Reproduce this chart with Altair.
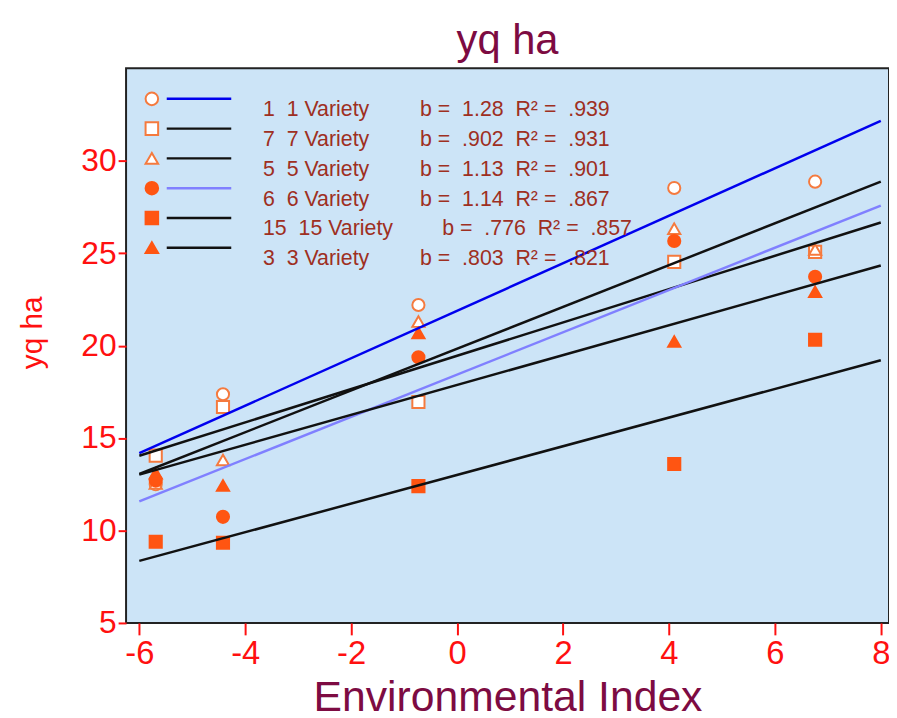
import altair as alt
import pandas as pd

# ---- data ----
env_index = [-5.69, -4.42, -0.73, 4.10, 6.76]
varieties = ["1", "7", "5", "6", "15", "3"]
y_v1 = [12.5, 17.37, 22.2, 28.53, 28.87]
y_v7 = [14.05, 16.68, 16.95, 24.53, 25.07]
y_v5 = [12.55, 13.82, 21.3, 26.33, 25.2]
y_v6 = [12.7, 10.74, 19.37, 25.66, 23.73]
y_v15 = [9.39, 9.34, 12.40, 13.60, 20.32]
y_v3 = [13.1, 12.44, 20.68, 20.23, 22.92]
series = [y_v1, y_v7, y_v5, y_v6, y_v15, y_v3]

NB = "\u00a0"
legend_labels = [f"1{NB}{NB}1 Variety", f"7{NB}{NB}7 Variety", f"5{NB}{NB}5 Variety",
                 f"6{NB}{NB}6 Variety", f"15{NB}{NB}15 Variety", f"3{NB}{NB}3 Variety"]
legend_b = ["1.28", ".902", "1.13", "1.14", ".776", ".803"]
legend_r2 = [".939", ".931", ".901", ".867", ".857", ".821"]

x_ticks = [-6, -4, -2, 0, 2, 4, 6, 8]
y_ticks = [5, 10, 15, 20, 25, 30]

# ---- tables ----
rows = []
for v, ys in zip(varieties, series):
    for x, y in zip(env_index, ys):
        rows.append({"variety": v, "x": x, "y": y})
df = pd.DataFrame(rows)

leg = pd.DataFrame({
    "variety": varieties,
    "row": list(range(len(varieties))),
    "label": legend_labels,
    "stats": [f"b ={NB} {b}{NB} R² ={NB} {r}" for b, r in zip(legend_b, legend_r2)],
})

# ---- styles ----
OPEN = "#f57a3e"
FILL = "#ff5512"
MAROON = "#7d0b42"
RED = "#ff1010"
TXT = "#9e2f22"
FONT = "Liberation Sans"

shape_scale = alt.Scale(domain=varieties, range=["circle", "square", "triangle-up",
                                                 "circle", "square", "triangle-up"])
fill_scale = alt.Scale(domain=varieties, range=["white", "white", "white", FILL, FILL, FILL])
stroke_scale = alt.Scale(domain=varieties, range=[OPEN, OPEN, OPEN, FILL, FILL, FILL])
line_scale = alt.Scale(domain=varieties, range=["#0000ee", "#111111", "#111111",
                                                "#8080ff", "#111111", "#111111"])

xs = alt.Scale(domain=[-6.25, 8.155], nice=False, zero=False)
ys = alt.Scale(domain=[5, 35], nice=False, zero=False)

x_axis = alt.Axis(values=x_ticks, title="Environmental Index", grid=False, domain=False,
                  labelExpr="toString(datum.value)",
                  labelFont=FONT, labelFontSize=33, labelColor=RED,
                  tickColor=RED, tickSize=12, tickWidth=2, labelPadding=3,
                  titleFont=FONT, titleFontSize=43, titleFontWeight="normal",
                  titleColor=MAROON, titleY=88, titleBaseline="alphabetic")
y_axis = alt.Axis(values=y_ticks, title="yq ha", grid=False, domain=False,
                  labelFont=FONT, labelFontSize=32, labelColor=RED,
                  tickColor=RED, tickSize=8, tickWidth=2, labelPadding=2,
                  titleFont=FONT, titleFontSize=30, titleFontWeight="normal",
                  titleColor=RED, titleX=-94, titleY=266, titleBaseline="middle")


def X(field):
    return alt.X(field, type="quantitative", scale=xs, axis=x_axis)


def Y(field):
    return alt.Y(field, type="quantitative", scale=ys, axis=y_axis)


base = alt.Chart(df)

points = base.mark_point(filled=True, size=150, strokeWidth=2, opacity=1).encode(
    x=X("x"), y=Y("y"),
    shape=alt.Shape("variety:N", scale=shape_scale, legend=None),
    fill=alt.Fill("variety:N", scale=fill_scale, legend=None),
    stroke=alt.Stroke("variety:N", scale=stroke_scale, legend=None),
)

lines = base.transform_regression(
    "x", "y", groupby=["variety"], extent=[-6, 8]
).mark_line(strokeWidth=2.5).encode(
    x=X("x"), y=Y("y"),
    color=alt.Color("variety:N", scale=line_scale, legend=None),
    detail="variety:N",
)

lbase = alt.Chart(leg).transform_calculate(
    mx="-5.763", lx1="-5.482", lx2="-4.264", tx1="-3.665",
    tx2="datum.row == 4 ? -0.28 : -0.70",
    my="33.35 - datum.row * 1.61", ty="32.73 - datum.row * 1.61",
)

leg_pts = lbase.mark_point(filled=True, size=160, strokeWidth=2, opacity=1).encode(
    x=X("mx"), y=Y("my"),
    shape=alt.Shape("variety:N", scale=shape_scale, legend=None),
    fill=alt.Fill("variety:N", scale=fill_scale, legend=None),
    stroke=alt.Stroke("variety:N", scale=stroke_scale, legend=None),
)
leg_lines = lbase.mark_rule(strokeWidth=2.5).encode(
    x=X("lx1"), x2="lx2:Q", y=Y("my"),
    color=alt.Color("variety:N", scale=line_scale, legend=None),
)
leg_txt1 = lbase.mark_text(align="left", baseline="middle", font=FONT,
                           fontSize=21.5, color=TXT).encode(x=X("tx1"), y=Y("ty"), text="label:N")
leg_txt2 = lbase.mark_text(align="left", baseline="middle", font=FONT,
                           fontSize=21.5, color=TXT).encode(x=X("tx2"), y=Y("ty"), text="stats:N")

chart = alt.layer(points, lines, leg_pts, leg_lines, leg_txt1, leg_txt2).properties(
    width=769, height=559,
    title=alt.Title("yq ha", font=FONT, fontSize=42, fontWeight="normal",
                    color=MAROON, anchor="middle", offset=5),
    padding={"left": 119, "top": 58, "right": 0, "bottom": 96},
    autosize="none",
    background="white",
).configure_view(fill="#cce4f7", stroke="#222222", strokeWidth=2)

chart.save("out.html", embed_options={"renderer": "svg", "actions": False})
